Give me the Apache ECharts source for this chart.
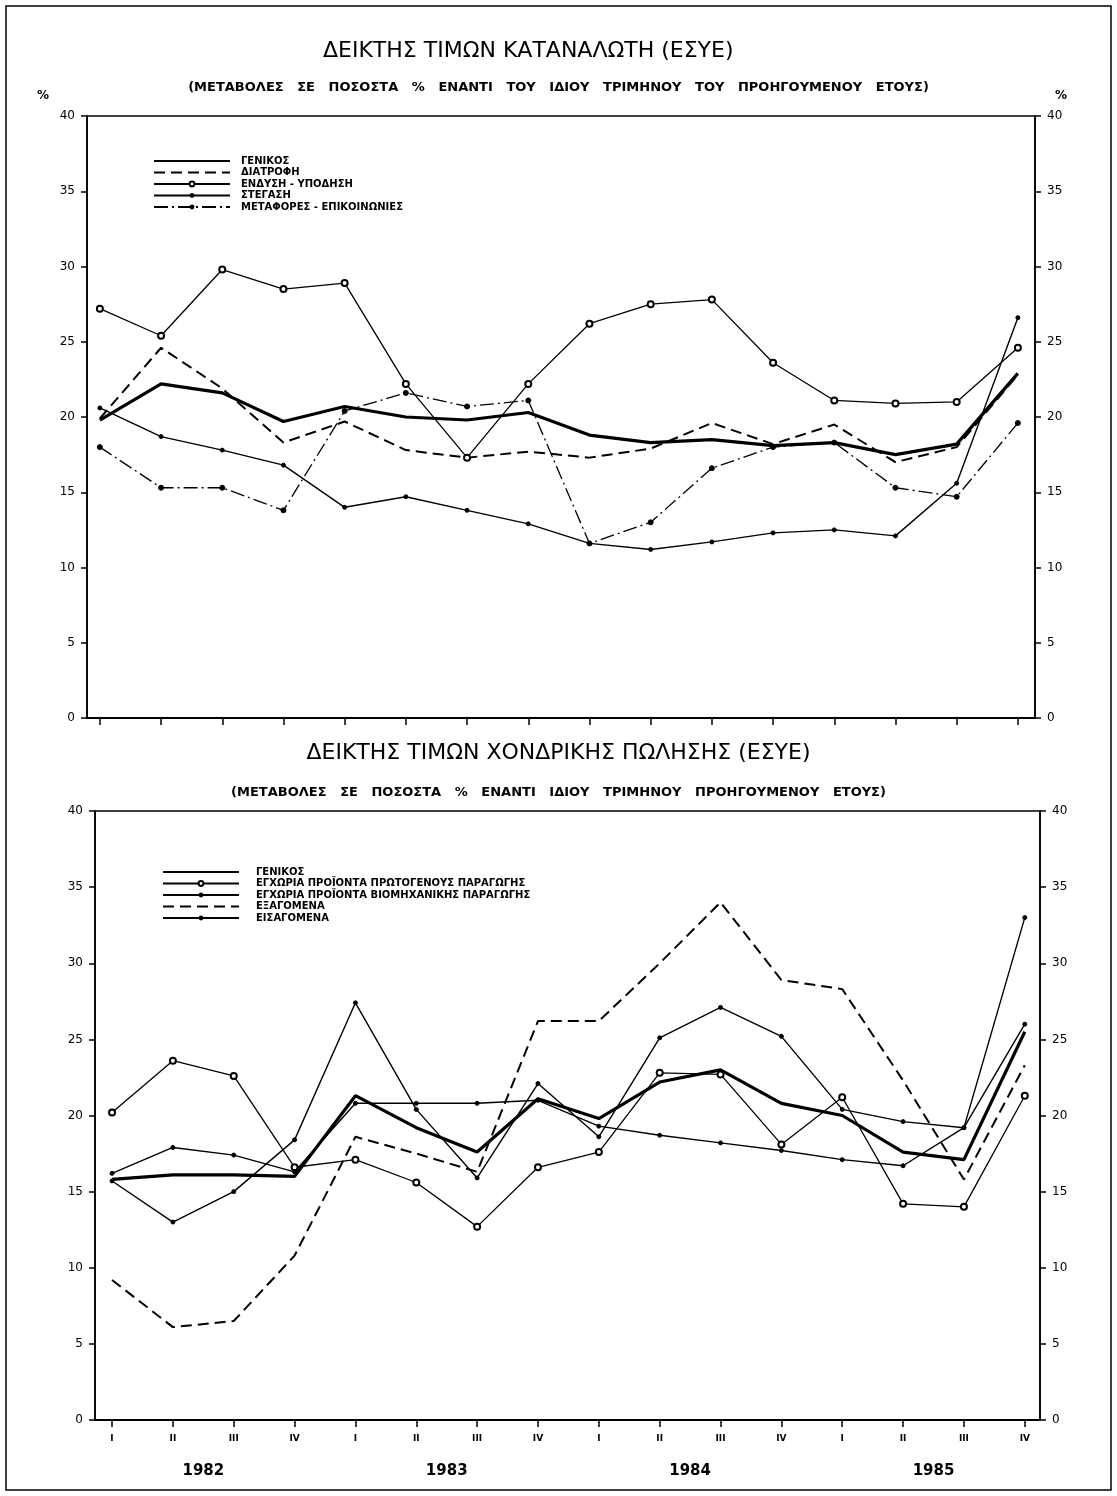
<!DOCTYPE html>
<html>
<head>
<meta charset="utf-8">
<script src="https://cdn.jsdelivr.net/npm/echarts@6/dist/echarts.min.js"></script>
<style>
html,body{margin:0;padding:0;background:#fff;}
#chart{width:1117px;height:1496px;}
</style>
</head>
<body>
<div id="chart"></div>
<script>
// ---- data ----
const quarters = ['I','II','III','IV','I','II','III','IV','I','II','III','IV','I','II','III','IV'];
const years = ['1982','1983','1984','1985'];

// Top chart: consumer price index (% change)
const cpiGeneral   = [19.8,22.2,21.6,19.7,20.7,20.0,19.8,20.3,18.8,18.3,18.5,18.1,18.3,17.5,18.2,22.9];
const cpiFood      = [19.9,24.6,21.9,18.3,19.7,17.8,17.3,17.7,17.3,17.9,19.6,18.2,19.5,17.0,18.0,22.8];
const cpiClothing  = [27.2,25.4,29.8,28.5,28.9,22.2,17.3,22.2,26.2,27.5,27.8,23.6,21.1,20.9,21.0,24.6];
const cpiHousing   = [20.6,18.7,17.8,16.8,14.0,14.7,13.8,12.9,11.6,11.2,11.7,12.3,12.5,12.1,15.6,26.6];
const cpiTransport = [18.0,15.3,15.3,13.8,20.4,21.6,20.7,21.1,11.6,13.0,16.6,18.0,18.3,15.3,14.7,19.6];

// Bottom chart: wholesale price index (% change)
const wpiGeneral   = [15.8,16.1,16.1,16.0,21.3,19.2,17.6,21.1,19.8,22.2,23.0,20.8,20.0,17.6,17.1,25.5];
const wpiPrimary   = [20.2,23.6,22.6,16.6,17.1,15.6,12.7,16.6,17.6,22.8,22.7,18.1,21.2,14.2,14.0,21.3];
const wpiIndustry  = [16.2,17.9,17.4,16.3,20.8,20.8,20.8,21.0,19.3,18.7,18.2,17.7,17.1,16.7,19.2,26.0];
const wpiExports   = [9.2,6.1,6.5,10.8,18.6,17.5,16.3,26.2,26.2,30.0,34.0,28.9,28.3,22.3,15.8,23.3];
const wpiImports   = [15.7,13.0,15.0,18.4,27.4,20.4,15.9,22.1,18.6,25.1,27.1,25.2,20.4,19.6,19.2,33.0];

const topNames = ['ΓΕΝΙΚΟΣ','ΔΙΑΤΡΟΦΗ','ΕΝΔΥΣΗ - ΥΠΟΔΗΣΗ','ΣΤΕΓΑΣΗ','ΜΕΤΑΦΟΡΕΣ - ΕΠΙΚΟΙΝΩΝΙΕΣ'];
const botNames = ['ΓΕΝΙΚΟΣ ','ΕΓΧΩΡΙΑ ΠΡΟΪΟΝΤΑ ΠΡΩΤΟΓΕΝΟΥΣ ΠΑΡΑΓΩΓΗΣ','ΕΓΧΩΡΙΑ ΠΡΟΪΟΝΤΑ ΒΙΟΜΗΧΑΝΙΚΗΣ ΠΑΡΑΓΩΓΗΣ','ΕΞΑΓΟΜΕΝΑ','ΕΙΣΑΓΟΜΕΝΑ'];

const FONT = 'DejaVu Sans';
const pairs = a => a.map((v,i)=>[i,v]);
const spaced = s => s.split(' ').join('   ');

const chart = echarts.init(document.getElementById('chart'), null, {renderer:'canvas'});

function yAx(gridIndex, pos, showName){
  return {
    type:'value', gridIndex, position:pos, min:0, max:40, interval:5,
    axisLine:{show:true, onZero:false, lineStyle:{color:'#000', width:1.6}},
    axisTick:{show:true, length:6, lineStyle:{color:'#000', width:1.5}},
    axisLabel:{color:'#000', fontFamily:FONT, fontSize:12, margin:12},
    splitLine:{show:false},
    name: showName ? '%' : '',
    nameLocation:'end', nameGap:14,
    nameTextStyle: pos==='left'
      ? {color:'#000', fontFamily:FONT, fontSize:12, fontWeight:'bold', align:'right', padding:[0,38,0,0]}
      : {color:'#000', fontFamily:FONT, fontSize:12, fontWeight:'bold', align:'left', padding:[0,0,0,20]}
  };
}

function lineSeries(name, data, xi, yi, opts){
  return Object.assign({
    type:'line', name, data:pairs(data), xAxisIndex:xi, yAxisIndex:yi,
    silent:true, animation:false, smooth:false,
    itemStyle:{color:'#000', borderColor:'#000'},
  }, opts);
}

const thick  = {showSymbol:false, symbol:'none', lineStyle:{color:'#000', width:3.2}};
const dashed = {showSymbol:false, symbol:'none', lineStyle:{color:'#000', width:2, type:[11,6]}};
const openC  = {symbol:'emptyCircle', symbolSize:6, lineStyle:{color:'#000', width:1.3}, itemStyle:{color:'#000', borderColor:'#000', borderWidth:1.3}};
const dotted = {symbol:'circle', symbolSize:4, lineStyle:{color:'#000', width:1.4}};
const dashDot= {symbol:'circle', symbolSize:5, lineStyle:{color:'#000', width:1.3, type:[14,4,2,4]}};

const noSym = n => ({name:n, itemStyle:{opacity:0}});
const legendText = {color:'#000', fontFamily:FONT, fontSize:10, fontWeight:'bold'};

const option = {
  backgroundColor:'#fff',
  animation:false,
  title:[
    {text:'ΔΕΙΚΤΗΣ ΤΙΜΩΝ ΚΑΤΑΝΑΛΩΤΗ (ΕΣΥΕ)', left:318, top:35,
     textStyle:{color:'#000', fontFamily:FONT, fontSize:22, fontWeight:'normal'}},
    {text:spaced('(ΜΕΤΑΒΟΛΕΣ ΣΕ ΠΟΣΟΣΤΑ % ΕΝΑΝΤΙ ΤΟΥ ΙΔΙΟΥ ΤΡΙΜΗΝΟΥ ΤΟΥ ΠΡΟΗΓΟΥΜΕΝΟΥ ΕΤΟΥΣ)'), left:'center', top:76,
     textStyle:{color:'#000', fontFamily:FONT, fontSize:13, fontWeight:'bold'}},
    {text:'ΔΕΙΚΤΗΣ ΤΙΜΩΝ ΧΟΝΔΡΙΚΗΣ ΠΩΛΗΣΗΣ (ΕΣΥΕ)', left:'center', top:737,
     textStyle:{color:'#000', fontFamily:FONT, fontSize:22, fontWeight:'normal'}},
    {text:spaced('(ΜΕΤΑΒΟΛΕΣ ΣΕ ΠΟΣΟΣΤΑ % ΕΝΑΝΤΙ ΙΔΙΟΥ ΤΡΙΜΗΝΟΥ ΠΡΟΗΓΟΥΜΕΝΟΥ ΕΤΟΥΣ)'), left:'center', top:781,
     textStyle:{color:'#000', fontFamily:FONT, fontSize:13, fontWeight:'bold'}}
  ],
  legend:[
    {data:[noSym(topNames[0]), noSym(topNames[1]), topNames[2], topNames[3], topNames[4]],
     orient:'vertical', left:148, top:151, itemWidth:76, itemHeight:6, itemGap:1.5,
     textStyle:Object.assign({padding:[0,0,0,6]}, legendText), selectedMode:false},
    {data:[noSym(botNames[0]), botNames[1], botNames[2], noSym(botNames[3]), botNames[4]],
     orient:'vertical', left:157, top:862, itemWidth:76, itemHeight:6, itemGap:1.5,
     textStyle:Object.assign({padding:[0,0,0,12]}, legendText), selectedMode:false}
  ],
  grid:[
    {left:87, right:82, top:116, bottom:778, show:true, borderColor:'#000', borderWidth:1.6, backgroundColor:'transparent'},
    {left:95, right:77, top:811, bottom:76, show:true, borderColor:'#000', borderWidth:1.6, backgroundColor:'transparent'}
  ],
  xAxis:[
    {type:'value', gridIndex:0, min:-0.21, max:15.28,
     axisLine:{show:true, onZero:false, lineStyle:{color:'#000', width:2}},
     axisTick:{show:true, length:7, customValues:quarters.map((q,i)=>i), lineStyle:{color:'#000', width:1.5}},
     axisLabel:{show:false}, splitLine:{show:false}},
    {type:'value', gridIndex:1, min:-0.28, max:15.25,
     axisLine:{show:true, onZero:false, lineStyle:{color:'#000', width:2}},
     axisTick:{show:true, length:7, customValues:quarters.map((q,i)=>i), lineStyle:{color:'#000', width:1.5}},
     axisLabel:{show:true, customValues:quarters.map((q,i)=>i), formatter:v=>quarters[Math.round(v)],
       color:'#000', fontFamily:FONT, fontSize:9, fontWeight:'bold', margin:14},
     splitLine:{show:false}},
    {type:'value', gridIndex:1, min:-0.28, max:15.25, position:'bottom', offset:0,
     axisLine:{show:false, onZero:false}, axisTick:{show:false}, splitLine:{show:false},
     axisLabel:{show:true, customValues:years.map((y,i)=>i*4+1.5), formatter:v=>years[Math.round((v-1.5)/4)],
       color:'#000', fontFamily:FONT, fontSize:15, fontWeight:'bold', margin:44}}
  ],
  yAxis:[
    yAx(0,'left',true), yAx(0,'right',true),
    yAx(1,'left',false), yAx(1,'right',false)
  ],
  graphic:[
    {type:'rect', shape:{x:6, y:6, width:1105, height:1484}, style:{fill:'none', stroke:'#000', lineWidth:1.5}, silent:true}
  ],
  series:[
    lineSeries(topNames[0], cpiGeneral, 0, 0, thick),
    lineSeries(topNames[1], cpiFood, 0, 0, dashed),
    lineSeries(topNames[2], cpiClothing, 0, 0, openC),
    lineSeries(topNames[3], cpiHousing, 0, 0, dotted),
    lineSeries(topNames[4], cpiTransport, 0, 0, dashDot),
    lineSeries(botNames[0], wpiGeneral, 1, 2, thick),
    lineSeries(botNames[1], wpiPrimary, 1, 2, openC),
    lineSeries(botNames[2], wpiIndustry, 1, 2, dotted),
    lineSeries(botNames[3], wpiExports, 1, 2, dashed),
    lineSeries(botNames[4], wpiImports, 1, 2, dotted)
  ]
};
chart.setOption(option);
</script>
</body>
</html>
